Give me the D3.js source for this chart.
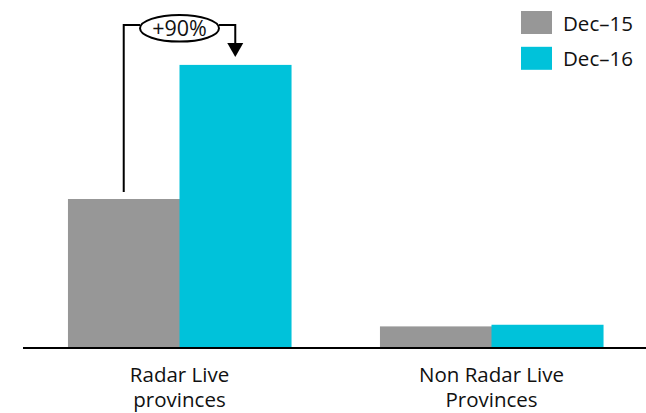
<!DOCTYPE html>
<html>
<head>
<meta charset="utf-8">
<script src="https://cdn.jsdelivr.net/npm/d3@7"></script>
<style>
  html, body { margin: 0; padding: 0; background: #fff; }
  svg { display: block; font-family: "Open Sans", "Noto Sans", sans-serif; }
</style>
</head>
<body>
<svg id="chart" width="646" height="413"></svg>
<script>
// Province groups and the two snapshot periods
const categories = [["Radar Live", "provinces"], ["Non Radar Live", "Provinces"]];
const seriesNames = ["Dec\u201315", "Dec\u201316"];
const dec15 = [100, 14.5];
const dec16 = [190, 15.6];
const growthLabel = "+90%";

const colors = ["#979797", "#00c2da"];
const svg = d3.select("#chart");

const baseY = 348;
const x0 = d3.scaleBand()
  .domain(d3.range(categories.length))
  .range([23.5, 647.5])
  .paddingInner(0.285)
  .paddingOuter(0.1425);
const x1 = d3.scaleBand()
  .domain(d3.range(seriesNames.length))
  .range([0, x0.bandwidth()]);
const y = d3.scaleLinear().domain([0, 100]).range([baseY, 199]);

const series = [dec15, dec16];

// Bars
const groups = svg.append("g").selectAll("g")
  .data(categories.map((c, i) => i))
  .join("g")
  .attr("transform", i => `translate(${x0(i)},0)`);

groups.selectAll("rect")
  .data(i => series.map((s, k) => ({ k, v: s[i] })))
  .join("rect")
  .attr("x", d => x1(d.k))
  .attr("width", x1.bandwidth() + 0.5)
  .attr("y", d => y(d.v))
  .attr("height", d => baseY - y(d.v))
  .attr("fill", d => colors[d.k]);

// Baseline
svg.append("line")
  .attr("x1", 23).attr("x2", 646)
  .attr("y1", baseY).attr("y2", baseY)
  .attr("stroke", "#000").attr("stroke-width", 2);

// Category labels
const labels = svg.append("g").selectAll("text")
  .data(categories)
  .join("text")
  .attr("x", (d, i) => x0(i) + x0.bandwidth() / 2)
  .attr("y", 382)
  .attr("text-anchor", "middle")
  .attr("font-size", 20.5)
  .attr("fill", "#111");
labels.selectAll("tspan")
  .data(d => d)
  .join("tspan")
  .attr("x", function () { return d3.select(this.parentNode).attr("x"); })
  .attr("dy", (d, j) => j === 0 ? 0 : 24.5)
  .text(d => d);

// Growth annotation between the two Radar Live bars
const leftX = x0(0) + x1(0) + x1.bandwidth() / 2;
const rightX = x0(0) + x1(1) + x1.bandwidth() / 2;
const topY = 25;
const cx = (leftX + rightX) / 2;
const rx = 39.5, ry = 13.3, cy = 28.3;
const ann = svg.append("g").attr("stroke", "#000").attr("stroke-width", 2).attr("fill", "none");
ann.append("path")
  .attr("d", `M${leftX},${y(dec15[0]) - 7}V${topY}H${cx - rx}`);
ann.append("path")
  .attr("d", `M${cx + rx},${topY}H${rightX}V${y(dec16[0]) - 21}`);
svg.append("path")
  .attr("d", `M${rightX - 8},${y(dec16[0]) - 22}L${rightX + 8},${y(dec16[0]) - 22}L${rightX},${y(dec16[0]) - 8}Z`)
  .attr("fill", "#000");
svg.append("ellipse")
  .attr("cx", cx).attr("cy", cy).attr("rx", rx).attr("ry", ry)
  .attr("fill", "#fff").attr("stroke", "#000").attr("stroke-width", 2);
svg.append("text")
  .attr("x", cx).attr("y", cy + 7.5)
  .attr("text-anchor", "middle")
  .attr("font-size", 21.5)
  .attr("fill", "#111")
  .text(growthLabel);

// Legend
const legend = svg.append("g").selectAll("g")
  .data(seriesNames)
  .join("g")
  .attr("transform", (d, i) => `translate(521,${11 + i * 35.8})`);
legend.append("rect")
  .attr("width", 31).attr("height", 23)
  .attr("fill", (d, i) => colors[i]);
legend.append("text")
  .attr("x", 42).attr("y", 19.5)
  .attr("font-size", 20.5)
  .attr("fill", "#111")
  .text(d => d);
</script>
</body>
</html>
